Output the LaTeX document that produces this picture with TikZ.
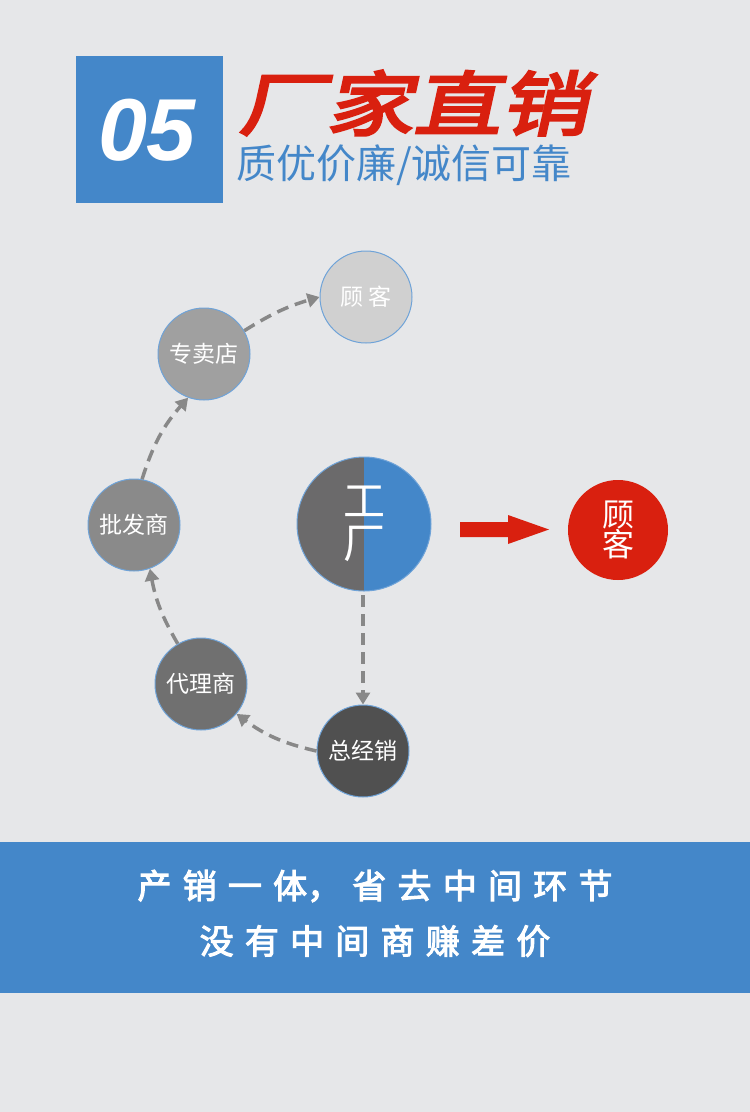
\documentclass[tikz,border=0pt]{standalone}
\usepackage{fontspec}
\setmainfont{Liberation Sans}
\newfontfamily\cjk{Noto Sans CJK SC}
\newfontfamily\cjkhead[FakeSlant=0.22,FakeBold=4,FakeStretch=1.25]{Noto Sans CJK SC}
\newfontfamily\cjkb[FakeBold=3]{Noto Sans CJK SC}
\usetikzlibrary{arrows.meta}
\definecolor{bg}{HTML}{E6E7E9}
\definecolor{myblue}{HTML}{4487C9}
\definecolor{myred}{HTML}{D9200F}
\definecolor{ringc}{HTML}{6FA3D8}
\definecolor{dashc}{HTML}{888888}
\definecolor{g1}{HTML}{D0D0D0}
\definecolor{g2}{HTML}{A0A0A0}
\definecolor{g3}{HTML}{8A8A8A}
\definecolor{g4}{HTML}{707070}
\definecolor{g5}{HTML}{505050}
\definecolor{gf}{HTML}{6B6A6B}
\begin{document}
\begin{tikzpicture}[x=1pt,y=-1pt,
  circ/.style={circle,draw=ringc,line width=1pt,minimum size=92pt,inner sep=0pt,text=white,font=\cjk\fontsize{23}{25}\selectfont},
  flow/.style={dashc,line width=3.5pt,dash pattern=on 12pt off 7pt,-{Triangle[length=12pt,width=14pt]}}]
\useasboundingbox (0,0) rectangle (750,1112);
\fill[bg] (0,0) rectangle (750,1112);
% header
\fill[myblue] (76,56) rectangle (223,203);
\node[text=white,font=\fontsize{88}{88}\selectfont\bfseries\itshape] (num) at (147,130) {05};
\node[anchor=west,text=myred,font=\cjkhead\fontsize{70}{72}\selectfont,inner sep=0pt] (title) at (238,103) {厂家直销};
\node[anchor=west,text=myblue,font=\cjk\fontsize{40}{42}\selectfont,inner sep=0pt] (sub) at (236,165) {质优价廉/诚信可靠};
% circles
\node[circ,fill=g1] (gk) at (366,297) {顾 客};
\node[circ,fill=g2] (zmd) at (204,354) {专卖店};
\node[circ,fill=g3] (pfs) at (134,525) {批发商};
\node[circ,fill=g4] (dls) at (201,684) {代理商};
\node[circ,fill=g5] (zjx) at (363,751) {总经销};
% factory
\coordinate (fc) at (364,524);
\fill[gf] (364,591) arc (90:270:67) -- cycle;
\fill[myblue] (364,591) arc (90:-90:67) -- cycle;
\draw[ringc,line width=1pt] (fc) circle (67);
\node[text=white,font=\cjk\fontsize{42}{46}\selectfont,align=center,inner sep=0pt] (gc) at (fc) {工\\[-4pt]厂};
% red customer
\node[circle,fill=myred,minimum size=100pt,inner sep=0pt,text=white,align=center,font=\cjk\fontsize{32}{32}\selectfont] (rk) at (618,530) {顾\\[-2pt]客};
\fill[myred] (460,522) -- (508,522) -- (508,515) -- (549,529.5) -- (508,544) -- (508,537) -- (460,537) -- cycle;
% dashed flow
\draw[flow] (363,595) -- (zjx.north);
\draw[flow] (zjx.west) to[bend left=12] (dls.-40);
\draw[flow] (dls.120) to[bend left=10] (pfs.-70);
\draw[flow] (pfs.80) to[bend left=12] (zmd.-110);
\draw[flow] (zmd.30) to[bend left=8] (gk.west);
% bottom band
\fill[myblue] (0,842) rectangle (750,993);
\node[text=white,font=\cjkb\fontsize{34}{36}\selectfont] (l1) at (375,886) {产\hspace{0.33em}销\hspace{0.33em}一\hspace{0.33em}体，\hspace{0.33em}省\hspace{0.33em}去\hspace{0.33em}中\hspace{0.33em}间\hspace{0.33em}环\hspace{0.33em}节};
\node[text=white,font=\cjkb\fontsize{34}{36}\selectfont] (l2) at (375,941) {没\hspace{0.33em}有\hspace{0.33em}中\hspace{0.33em}间\hspace{0.33em}商\hspace{0.33em}赚\hspace{0.33em}差\hspace{0.33em}价};
\end{tikzpicture}
\end{document}
